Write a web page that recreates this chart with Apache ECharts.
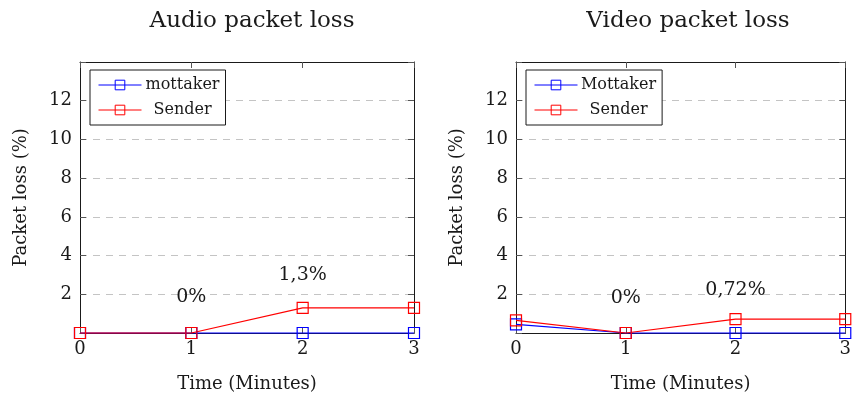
<!DOCTYPE html>
<html>
<head>
<meta charset="utf-8">
<script src="https://cdn.jsdelivr.net/npm/echarts@6/dist/echarts.min.js"></script>
<style>
  html, body { margin: 0; padding: 0; background: #fff; }
  #chart { width: 854px; height: 398px; }
</style>
</head>
<body>
<div id="chart"></div>
<script>
// Time axis (minutes)
const minutes = [0, 1, 2, 3];

// Audio packet loss (%)
const audioReceiver = [0, 0, 0, 0];
const audioSender = [0, 0, 1.3, 1.3];

// Video packet loss (%)
const videoReceiver = [0.45, 0, 0, 0];
const videoSender = [0.65, 0, 0.72, 0.72];

// Annotated points on the sender curves: [index, label distance]
const audioNotes = [[1, 20], [2, 17]];
const videoNotes = [[1, 19], [2, 13]];

const yTicks = [2, 4, 6, 8, 10, 12];

const FONT = 'DejaVu Serif';
const BLUE = '#0000ff';
const RED = '#ff0000';
const INK = '#1a1a1a';

function pct(v) {
  return String(v).replace('.', ',') + '%';
}

function points(values, notes) {
  return minutes.map((m, i) => {
    const p = { value: [m, values[i]] };
    const note = notes && notes.find(n => n[0] === i);
    if (note) {
      p.label = {
        show: true, position: 'top', distance: note[1],
        formatter: pct(values[i]), fontFamily: FONT, fontSize: 19, color: INK
      };
    }
    return p;
  });
}

function xAxes(gridIndex) {
  const common = {
    type: 'value', gridIndex, min: 0, max: 3, interval: 1,
    axisLine: { show: true, onZero: false, lineStyle: { color: INK, width: 1 } },
    axisTick: { show: true, inside: true, length: 6, lineStyle: { color: '#555', width: 1 } },
    splitLine: { show: false }
  };
  return [
    Object.assign({}, common, {
      position: 'bottom',
      name: 'Time (Minutes)', nameLocation: 'middle', nameGap: 42,
      nameTextStyle: { fontFamily: FONT, fontSize: 18, color: INK },
      axisLabel: { fontFamily: FONT, fontSize: 18, color: INK, margin: 7 }
    }),
    Object.assign({}, common, { position: 'top', axisLabel: { show: false } })
  ];
}

function yAxes(gridIndex) {
  const common = {
    type: 'value', gridIndex, min: 0, max: 14, interval: 2,
    axisLine: { show: true, onZero: false, lineStyle: { color: INK, width: 1 } },
    axisTick: { show: true, inside: true, length: 6, lineStyle: { color: '#555', width: 1 } }
  };
  return [
    Object.assign({}, common, {
      position: 'left',
      name: 'Packet loss (%)', nameLocation: 'middle', nameGap: 50,
      nameTextStyle: { fontFamily: FONT, fontSize: 18, color: INK },
      axisLabel: {
        fontFamily: FONT, fontSize: 18, color: INK, margin: 8,
        formatter: v => (yTicks.includes(v) ? String(v) : '')
      },
      splitLine: { show: true, lineStyle: { color: '#c4c4c4', type: [7, 6], width: 1 } }
    }),
    Object.assign({}, common, {
      position: 'right', axisLabel: { show: false }, splitLine: { show: false }
    })
  ];
}

function lineSeries(name, color, values, notes, axisBase) {
  return {
    name, type: 'line', xAxisIndex: axisBase, yAxisIndex: axisBase,
    data: points(values, notes),
    symbol: 'rect', symbolSize: 11, showAllSymbol: true, clip: false,
    lineStyle: { color, width: 1.2 },
    itemStyle: { color: 'rgba(255,255,255,0)', borderColor: color, borderWidth: 1.2 },
    emphasis: { disabled: true },
    animation: false
  };
}

function legend(left, names) {
  return {
    data: names, left, top: 70, orient: 'vertical',
    itemWidth: 43, itemHeight: 12, itemGap: 9,
    padding: [7, 6, 7, 8],
    borderColor: INK, borderWidth: 1, backgroundColor: '#fff',
    lineStyle: { width: 1 },
    itemStyle: { borderWidth: 1 },
    formatter: name => '{c|' + name + '}',
    textStyle: {
      fontFamily: FONT, fontSize: 16, color: INK,
      rich: { c: { fontFamily: FONT, fontSize: 16, color: INK, width: 72, align: 'center' } }
    }
  };
}

const chart = echarts.init(document.getElementById('chart'), null, { renderer: 'canvas' });

chart.setOption({
  backgroundColor: '#fff',
  animation: false,
  title: [
    { text: 'Audio packet loss', left: 247, top: 5, textAlign: 'center',
      textStyle: { fontFamily: FONT, fontSize: 23, fontWeight: 'normal', color: INK } },
    { text: 'Video packet loss', left: 683, top: 5, textAlign: 'center',
      textStyle: { fontFamily: FONT, fontSize: 23, fontWeight: 'normal', color: INK } }
  ],
  legend: [
    legend(90, ['mottaker', 'Sender']),
    legend(526, ['Mottaker', 'Sender'])
  ],
  grid: [
    { left: 80, top: 62, width: 334, height: 271 },
    { left: 516, top: 62, width: 335, height: 271 }
  ],
  xAxis: [...xAxes(0), ...xAxes(1)],
  yAxis: [...yAxes(0), ...yAxes(1)],
  series: [
    lineSeries('mottaker', BLUE, audioReceiver, null, 0),
    lineSeries('Sender', RED, audioSender, audioNotes, 0),
    lineSeries('Mottaker', BLUE, videoReceiver, null, 2),
    lineSeries('Sender', RED, videoSender, videoNotes, 2)
  ]
});
</script>
</body>
</html>
